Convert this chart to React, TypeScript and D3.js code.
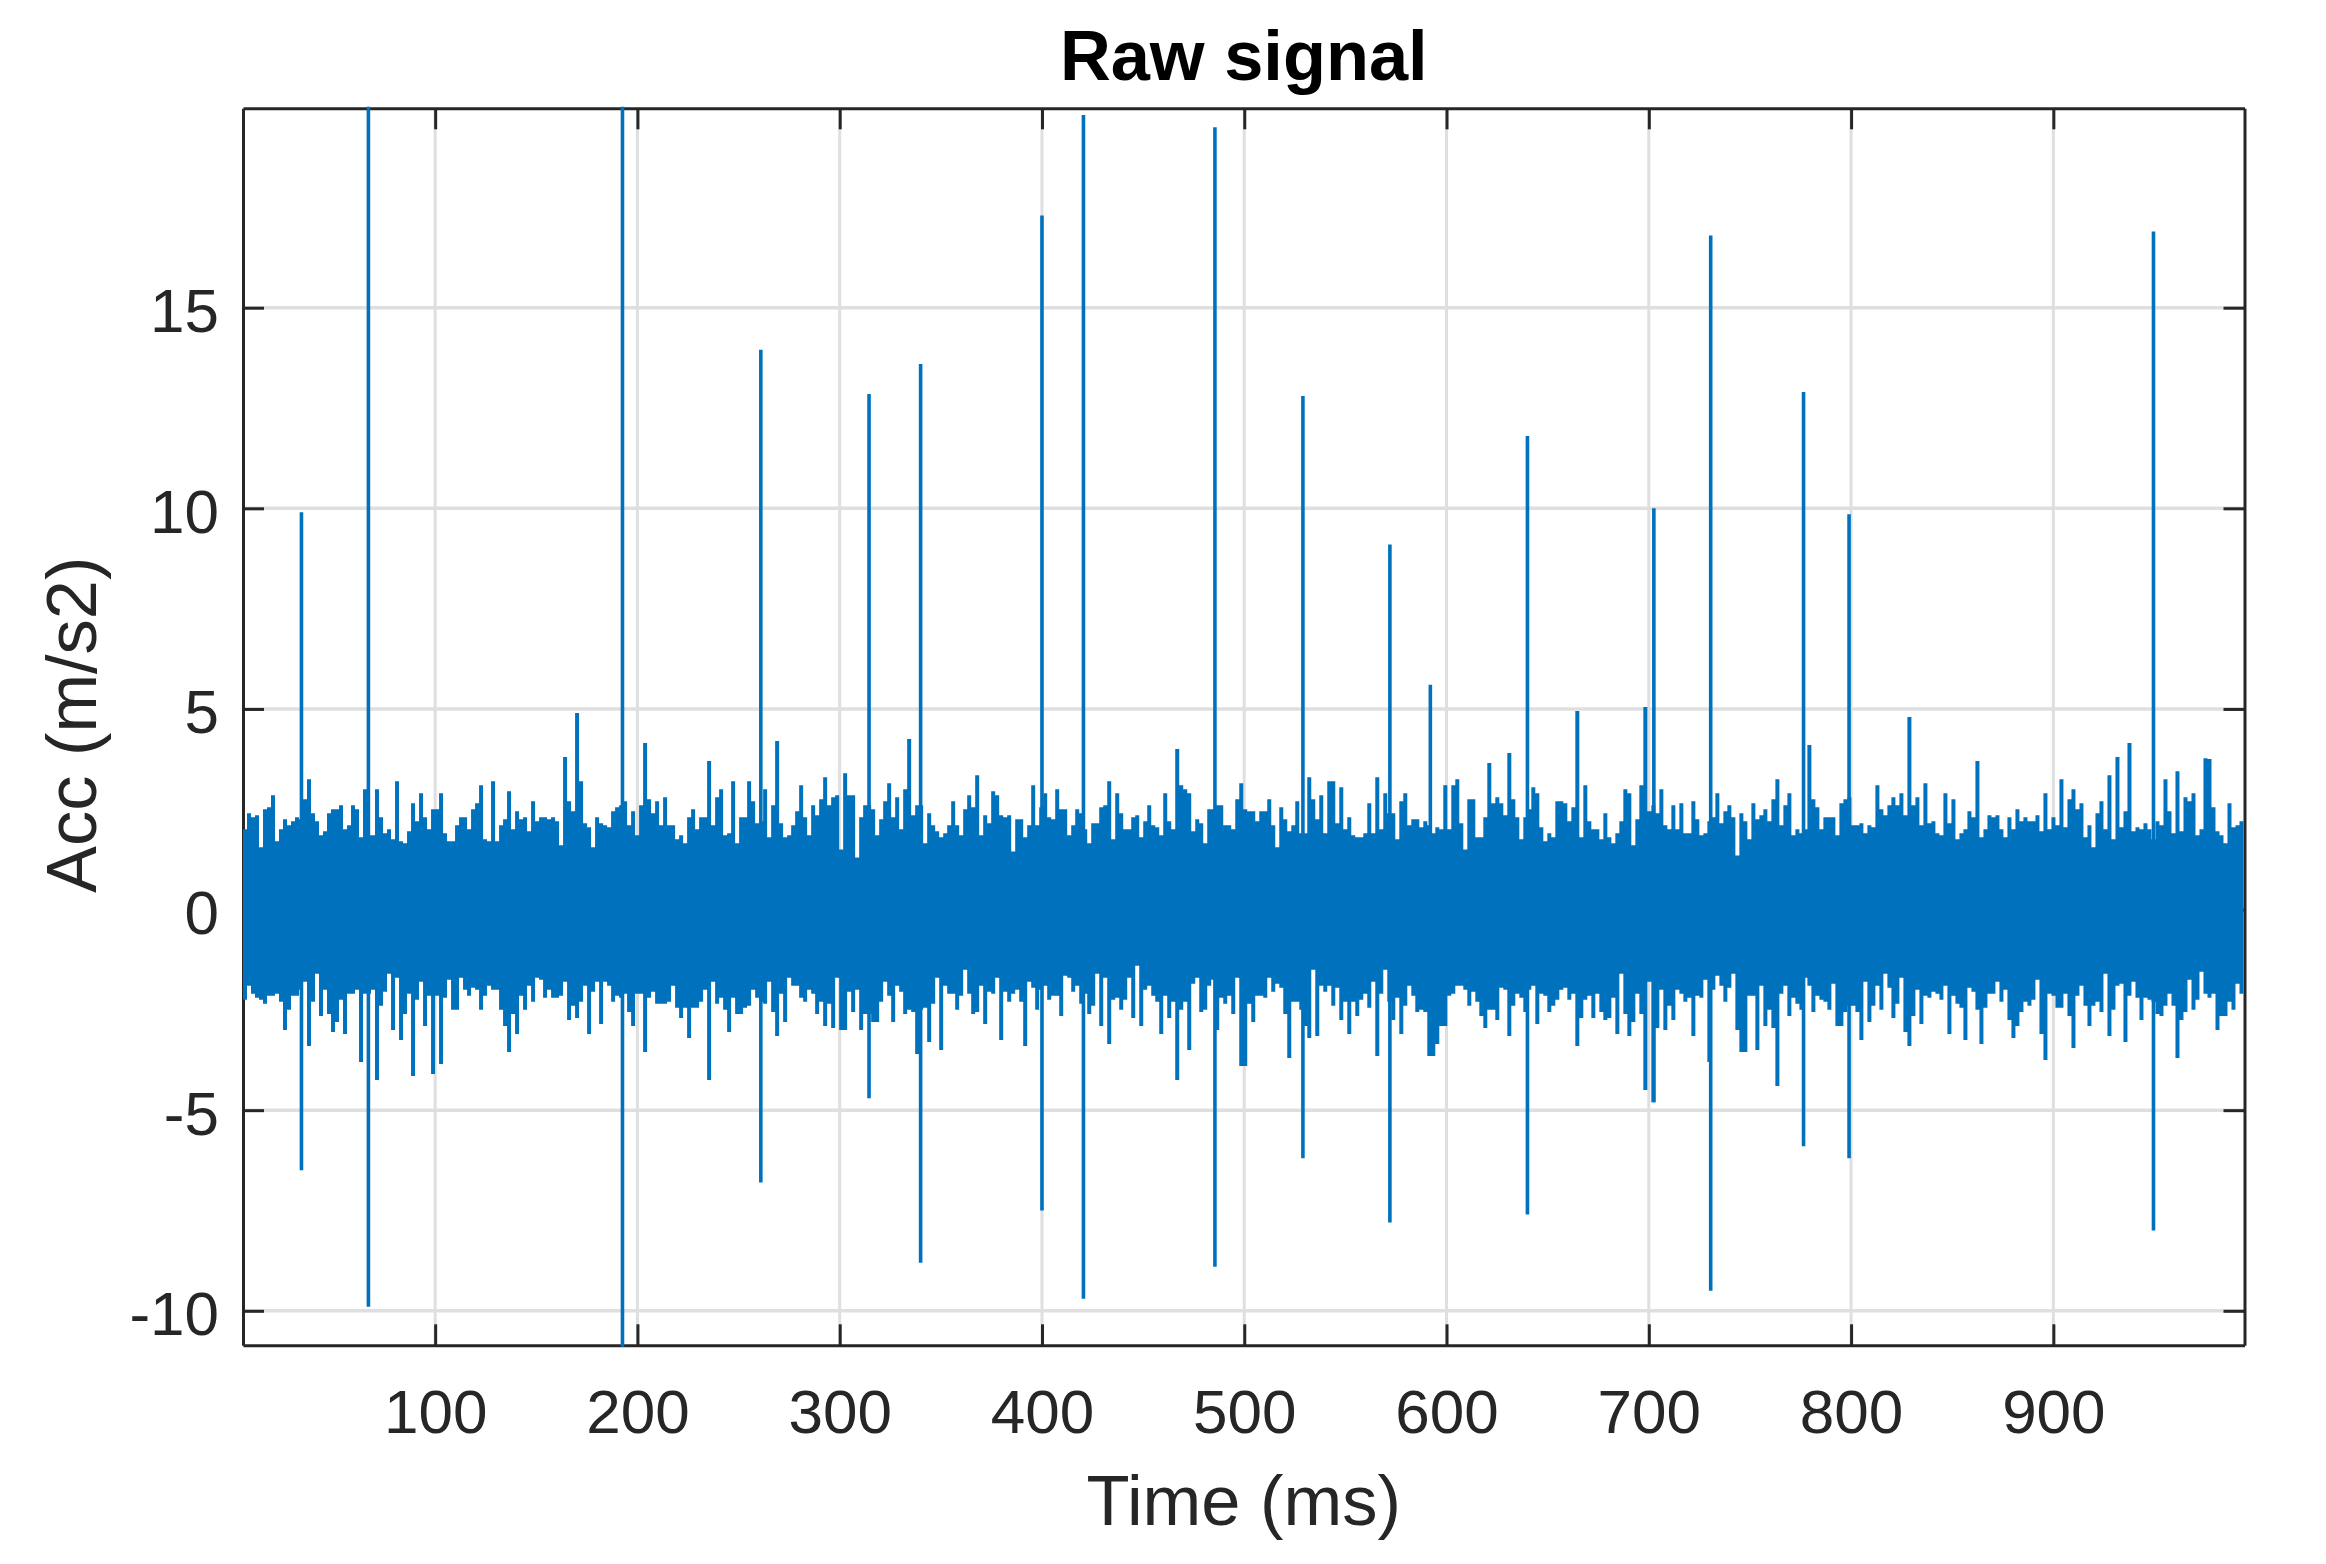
import { useEffect, useRef } from "react";
import * as d3 from "d3";

const xTicks = [100, 200, 300, 400, 500, 600, 700, 800, 900];
const yTicks = [-10, -5, 0, 5, 10, 15];

// upper edge of the noise band, one value per bin of about 2 ms
const upperEnvelope = [
  2.0,2.4,2.3,2.35,1.55,2.5,2.55,2.85,1.7,2.0,2.25,2.1,2.2,2.3,2.25,2.75,3.25,2.4,2.2,1.85,1.95,2.4,2.5,2.5,2.6,2.0,2.1,2.6,2.5,1.8,3.0,1.85,1.85,3.0,2.3,1.9,2.0,1.75,3.2,1.7,1.65,1.95,2.65,2.2,2.9,2.3,2.0,2.5,2.5,2.9,1.9,1.7,1.7,2.1,2.3,2.3,2.0,2.5,2.65,3.1,1.75,1.7,
  3.2,1.7,2.1,2.25,2.95,2.0,2.45,2.25,2.3,1.95,2.7,2.2,2.3,2.3,2.25,2.3,2.2,1.6,3.8,2.7,2.45,4.9,3.2,2.15,2.05,1.55,2.3,2.15,2.1,2.05,2.45,2.55,2.6,2.7,2.1,2.45,1.85,2.6,4.15,2.75,2.4,2.7,2.1,2.8,2.1,2.1,1.75,1.85,1.65,2.3,2.5,2.0,2.3,2.3,3.7,2.1,2.8,3.0,1.85,1.9,3.2,1.65,2.3,
  2.3,3.2,2.7,2.15,2.2,3.0,1.8,2.6,4.2,2.15,1.8,1.85,2.1,2.45,3.1,2.3,1.85,2.6,2.35,2.75,3.3,2.6,2.8,2.85,1.5,3.4,2.85,2.85,1.3,2.3,2.6,2.6,2.5,1.85,2.25,2.7,3.15,2.3,2.8,2.0,3.0,4.25,2.35,2.6,2.6,1.65,2.4,2.1,1.95,1.8,1.9,2.1,2.7,2.1,1.85,2.5,2.85,2.55,3.35,1.85,2.35,2.15,2.95,
  2.85,2.35,2.3,2.35,1.45,2.25,2.25,1.8,2.1,3.1,2.1,2.55,2.9,2.3,2.25,3.0,2.5,2.5,1.85,2.1,2.5,2.4,2.0,1.65,2.15,2.15,2.55,2.6,3.2,1.75,2.9,2.4,2.0,2.0,2.3,2.35,1.8,2.2,2.6,2.1,2.05,1.85,2.9,2.2,2.0,4.0,3.1,3.0,2.9,1.95,2.25,2.15,1.65,2.5,2.5,2.6,2.6,2.1,2.1,2.0,2.75,3.15,
  2.5,2.45,2.45,2.2,2.45,2.45,2.75,2.1,1.55,2.55,2.25,1.95,2.1,2.7,1.9,1.9,3.3,2.75,2.25,2.85,1.9,3.2,3.2,2.15,3.05,2.0,2.3,1.85,1.8,1.8,1.9,2.65,1.9,3.3,2.0,2.9,2.4,2.4,1.75,2.7,2.9,2.1,2.25,2.25,2.05,2.2,2.1,1.9,2.05,2.0,3.1,2.0,3.1,3.25,2.15,1.5,2.75,2.75,1.8,1.8,2.3,3.65,2.65,
  2.8,2.65,2.35,3.9,2.75,2.3,1.75,2.3,2.5,3.05,2.9,2.05,1.7,1.9,1.8,2.7,2.7,2.65,2.2,2.55,4.95,1.8,3.1,2.2,2.0,2.0,1.75,2.4,1.8,1.65,1.9,2.2,3.0,2.9,1.6,2.25,3.1,5.05,2.45,2.6,2.4,3.0,2.1,2.0,2.6,2.0,2.65,1.9,1.9,2.7,2.25,1.85,1.9,2.2,2.3,2.9,2.15,2.45,2.6,2.3,1.35,2.4,
  2.2,1.75,2.65,2.25,2.35,2.5,2.2,2.75,3.25,2.1,2.6,2.9,1.85,2.0,1.9,2.0,4.1,2.75,2.55,2.0,2.3,2.3,2.3,1.85,2.65,2.75,2.8,2.1,2.1,2.15,1.9,2.1,2.05,3.1,2.5,2.35,2.6,2.8,2.6,2.9,2.35,4.8,2.6,2.8,2.1,3.15,2.15,2.2,1.9,1.85,2.9,2.15,2.75,1.75,1.9,2.0,2.45,2.3,3.7,1.8,2.0,2.35,2.3,
  2.35,2.0,1.8,2.3,2.0,2.5,2.2,2.3,2.2,2.2,2.35,1.95,2.9,2.0,2.3,2.1,3.25,2.05,2.75,3.0,2.5,2.65,1.8,2.1,1.55,2.4,2.7,2.0,3.35,1.75,3.8,2.05,2.45,4.15,1.95,2.05,2.0,2.15,2.0,1.75,2.2,2.1,3.25,2.45,1.9,3.45,1.95,2.8,2.7,2.9,1.85,2.0,3.77,3.75,2.55,1.95,1.85,1.65,2.65,2.05,2.1,2.2,
];

// lower edge of the noise band, same bins
const lowerEnvelope = [
  -2.25,-1.9,-2.1,-2.2,-2.25,-2.35,-2.15,-2.15,-2.1,-2.3,-3.0,-2.5,-2.15,-2.15,-2.0,-1.8,-3.4,-2.3,-1.6,-2.65,-2.0,-2.6,-3.05,-2.8,-2.25,-3.1,-2.1,-2.1,-2.0,-3.8,-2.1,-2.1,-2.0,-4.25,-2.4,-2.05,-1.6,-3.0,-1.7,-3.25,-2.6,-2.1,-4.15,-2.25,-1.8,-2.9,-2.15,-4.1,-2.15,-3.85,-2.2,-1.75,-2.5,-2.5,-1.7,-2.0,-2.15,-1.95,-2.0,-2.5,-2.15,-1.9,
  -2.0,-2.0,-2.5,-2.9,-3.55,-2.6,-3.1,-2.15,-2.5,-1.9,-2.3,-1.7,-1.75,-2.2,-2.0,-2.2,-2.2,-2.15,-1.8,-2.75,-2.4,-2.7,-2.3,-1.9,-3.1,-2.05,-1.8,-2.85,-1.8,-1.9,-2.3,-2.15,-2.2,-2.1,-2.55,-2.9,-2.1,-2.1,-3.55,-2.2,-2.05,-2.35,-2.35,-2.35,-2.3,-1.9,-2.45,-2.7,-2.45,-3.2,-2.45,-2.45,-2.3,-2.0,-4.25,-1.8,-2.35,-2.2,-2.5,-3.05,-2.2,-2.6,-2.6,
  -2.45,-2.4,-2.0,-2.2,-2.3,-2.35,-1.8,-2.55,-3.15,-2.1,-2.8,-1.7,-1.9,-1.9,-2.2,-2.3,-2.0,-2.1,-2.6,-2.3,-2.9,-2.35,-2.95,-1.7,-3.0,-3.0,-2.05,-2.55,-2.0,-3.0,-2.6,-2.6,-2.8,-2.8,-2.3,-1.8,-2.15,-2.8,-1.9,-2.05,-2.6,-2.5,-2.55,-3.6,-2.5,-2.45,-3.3,-2.35,-1.7,-3.5,-1.9,-2.1,-2.1,-2.5,-2.15,-1.5,-2.1,-2.6,-2.55,-1.9,-2.85,-2.05,-2.1,
  -1.7,-3.25,-2.05,-2.3,-2.1,-2.0,-2.3,-3.4,-1.8,-1.95,-2.5,-2.0,-1.9,-2.25,-2.15,-2.15,-2.65,-1.65,-1.7,-2.05,-1.9,-2.35,-2.1,-2.6,-2.4,-1.6,-2.9,-1.7,-3.35,-2.25,-2.2,-2.5,-2.25,-1.7,-2.7,-1.4,-2.9,-2.0,-1.9,-2.15,-2.3,-3.1,-2.15,-2.7,-2.3,-4.25,-2.5,-2.3,-3.5,-1.85,-1.7,-2.55,-2.5,-1.9,-1.75,-3.0,-2.2,-2.35,-2.15,-2.6,-1.7,-3.9,
  -3.9,-2.35,-2.8,-2.15,-2.15,-2.2,-1.7,-2.05,-1.85,-1.95,-2.6,-3.7,-2.3,-2.3,-2.5,-2.9,-3.2,-1.5,-3.15,-1.9,-2.05,-1.9,-2.4,-1.95,-2.75,-2.3,-3.1,-2.3,-2.65,-2.25,-2.1,-2.45,-1.8,-3.65,-2.1,-1.5,-2.3,-2.75,-2.2,-3.1,-2.4,-1.9,-2.15,-2.55,-2.5,-2.55,-3.65,-3.65,-3.35,-2.9,-2.9,-2.15,-2.1,-1.9,-1.9,-2.0,-2.4,-2.05,-2.3,-2.65,-2.95,-2.5,-2.5,
  -2.75,-1.95,-2.0,-3.15,-2.4,-2.1,-2.2,-2.55,-2.0,-1.9,-2.85,-2.1,-2.15,-2.55,-2.4,-2.25,-2.0,-1.95,-2.25,-2.1,-3.4,-2.7,-2.25,-2.15,-2.7,-2.1,-2.55,-2.75,-2.7,-2.2,-3.1,-1.6,-2.6,-3.15,-2.8,-2.1,-2.6,-4.5,-1.8,-4.8,-2.95,-2.0,-3.0,-2.4,-2.75,-2.0,-2.1,-2.3,-2.2,-3.15,-2.15,-2.2,-1.75,-3.8,-2.0,-1.65,-1.9,-2.3,-1.95,-1.6,-3.0,-3.55,
  -3.55,-2.15,-2.15,-3.5,-1.9,-2.9,-2.5,-2.95,-4.4,-2.1,-1.9,-2.65,-2.2,-2.35,-2.5,-1.7,-1.9,-2.55,-2.15,-2.25,-2.3,-2.5,-1.85,-2.9,-2.9,-2.55,-2.4,-2.4,-2.55,-3.25,-1.8,-2.8,-2.4,-1.9,-2.5,-1.6,-1.95,-2.7,-2.35,-1.7,-3.05,-3.4,-2.65,-2.0,-2.85,-2.15,-2.2,-2.05,-2.1,-2.25,-1.9,-3.1,-2.15,-2.35,-2.45,-3.25,-1.95,-2.05,-2.5,-3.35,-2.45,-2.1,-2.1,
  -1.8,-2.3,-2.0,-2.75,-3.2,-2.9,-2.55,-2.3,-2.4,-2.25,-1.75,-3.1,-3.75,-2.1,-2.15,-2.45,-2.45,-2.1,-2.65,-3.45,-2.15,-1.9,-2.4,-2.9,-2.4,-2.3,-2.55,-1.6,-3.15,-2.5,-1.9,-1.85,-3.3,-2.15,-1.8,-2.2,-2.75,-2.2,-2.25,-2.3,-2.6,-2.65,-2.4,-2.1,-2.4,-3.7,-2.75,-2.55,-1.75,-2.5,-2.25,-1.55,-2.1,-2.2,-2.1,-3.0,-2.65,-2.65,-2.3,-2.5,-1.85,-2.1,
];

// impulses that stand out of the band
const spikeTimes = [33.9, 67, 192.6, 261, 314.5, 340, 400, 420.5, 485.5, 529, 572, 592, 640, 702.5, 730.6, 776.5, 799, 949.5];
const spikeTops = [9.9, 21, 21, 13.95, 12.85, 13.6, 17.3, 19.8, 19.5, 12.8, 9.1, 5.6, 11.8, 10.0, 16.8, 12.9, 9.85, 16.9];
const spikeBottoms = [-6.5, -9.9, -12, -6.8, -4.7, -8.8, -7.5, -9.7, -8.9, -6.2, -7.8, -3.5, -7.6, -4.8, -9.5, -5.9, -6.2, -8.0];

const binMs = 1.978;
const blue = "#0072BD";
const ink = "#262626";
const gridColor = "#dfdfdf";
const fontFamily = "'Liberation Sans', Arial, sans-serif";

const WIDTH = 2326;
const HEIGHT = 1564;
const MARGIN = { LEFT: 243, RIGHT: 81.5, TOP: 108.3, BOTTOM: 218.7 };

const App = () => {
  const svgRef = useRef<SVGSVGElement>(null);

  useEffect(() => {
    const svg = d3.select(svgRef.current);
    svg.selectAll("*").remove();

    const innerW = WIDTH - MARGIN.LEFT - MARGIN.RIGHT;
    const innerH = HEIGHT - MARGIN.TOP - MARGIN.BOTTOM;
    const x = d3.scaleLinear().domain([5, 994.5]).range([0, innerW]);
    const y = d3.scaleLinear().domain([-10.86, 19.97]).range([innerH, 0]);

    svg
      .append("defs")
      .append("clipPath")
      .attr("id", "plot-clip")
      .append("rect")
      .attr("x", -1)
      .attr("y", -1.5)
      .attr("width", innerW + 1)
      .attr("height", innerH + 3);

    const g = svg
      .append("g")
      .attr("transform", `translate(${MARGIN.LEFT}, ${MARGIN.TOP})`);

    // grid
    g.selectAll("line.gx")
      .data(xTicks)
      .join("line")
      .attr("class", "gx")
      .attr("x1", (d) => x(d))
      .attr("x2", (d) => x(d))
      .attr("y1", 0)
      .attr("y2", innerH)
      .attr("stroke", gridColor)
      .attr("stroke-width", 3);
    g.selectAll("line.gy")
      .data(yTicks)
      .join("line")
      .attr("class", "gy")
      .attr("x1", 0)
      .attr("x2", innerW)
      .attr("y1", (d) => y(d))
      .attr("y2", (d) => y(d))
      .attr("stroke", gridColor)
      .attr("stroke-width", 3.5);

    // axes on all four sides, ticks pointing inward
    const TICK = 21;
    const bottom = g
      .append("g")
      .attr("transform", `translate(0, ${innerH})`)
      .call(d3.axisBottom(x).tickValues(xTicks).tickSize(-TICK).tickSizeOuter(0).tickFormat((d) => `${d}`) as any);
    const top = g
      .append("g")
      .call(d3.axisTop(x).tickValues(xTicks).tickSize(-TICK).tickSizeOuter(0).tickFormat(() => "") as any);
    const left = g
      .append("g")
      .call(d3.axisLeft(y).tickValues(yTicks).tickSize(-TICK).tickSizeOuter(0).tickFormat((d) => `${d}`) as any);
    const right = g
      .append("g")
      .attr("transform", `translate(${innerW}, 0)`)
      .call(d3.axisRight(y).tickValues(yTicks).tickSize(-TICK).tickSizeOuter(0).tickFormat(() => "") as any);

    [bottom, top, left, right].forEach((a: any) => {
      a.selectAll("path.domain").attr("stroke", ink).attr("stroke-width", 3);
      a.selectAll(".tick line").attr("stroke", ink).attr("stroke-width", 3);
    });

    bottom
      .selectAll("text")
      .attr("y", 88)
      .attr("dy", 0)
      .attr("fill", ink)
      .attr("font-family", fontFamily)
      .attr("font-size", 62);
    left
      .selectAll("text")
      .attr("x", -24)
      .attr("y", 24)
      .attr("dy", 0)
      .attr("fill", ink)
      .attr("font-family", fontFamily)
      .attr("font-size", 62);

    // noise band drawn as a stepped area, spikes as plain lines over it
    const bins = d3.range(upperEnvelope.length + 1);
    const last = upperEnvelope.length - 1;
    const band = d3
      .area<number>()
      .x((i) => x(5 + i * binMs))
      .y0((i) => y(lowerEnvelope[Math.min(i, lowerEnvelope.length - 1)]))
      .y1((i) => y(upperEnvelope[Math.min(i, last)]))
      .curve(d3.curveStepAfter);

    const data = g.append("g").attr("clip-path", "url(#plot-clip)");
    data.append("path").attr("d", band(bins)).attr("fill", blue);
    data
      .selectAll("line")
      .data(spikeTimes)
      .join("line")
      .attr("x1", (d) => x(d))
      .attr("x2", (d) => x(d))
      .attr("y1", (_, i) => y(spikeTops[i]))
      .attr("y2", (_, i) => y(spikeBottoms[i]))
      .attr("stroke", blue)
      .attr("stroke-width", 3.6);

    // labels
    svg
      .append("text")
      .attr("x", MARGIN.LEFT + innerW / 2)
      .attr("y", 80)
      .attr("text-anchor", "middle")
      .attr("font-family", fontFamily)
      .attr("font-weight", "bold")
      .attr("font-size", 70.4)
      .attr("fill", "#000")
      .text("Raw signal");
    svg
      .append("text")
      .attr("x", MARGIN.LEFT + innerW / 2)
      .attr("y", 1540 - 15)
      .attr("text-anchor", "middle")
      .attr("font-family", fontFamily)
      .attr("font-size", 70.5)
      .attr("fill", ink)
      .text("Time (ms)");
    svg
      .append("text")
      .attr("transform", `translate(96, ${MARGIN.TOP + innerH / 2 - 2}) rotate(-90)`)
      .attr("text-anchor", "middle")
      .attr("font-family", fontFamily)
      .attr("font-size", 70.4)
      .attr("fill", ink)
      .text("Acc (m/s2)");
  }, []);

  return (
    <svg
      ref={svgRef}
      width={WIDTH}
      height={HEIGHT}
      style={{ position: "absolute", left: 0, top: 0, background: "#fff" }}
    />
  );
};

export default App;
